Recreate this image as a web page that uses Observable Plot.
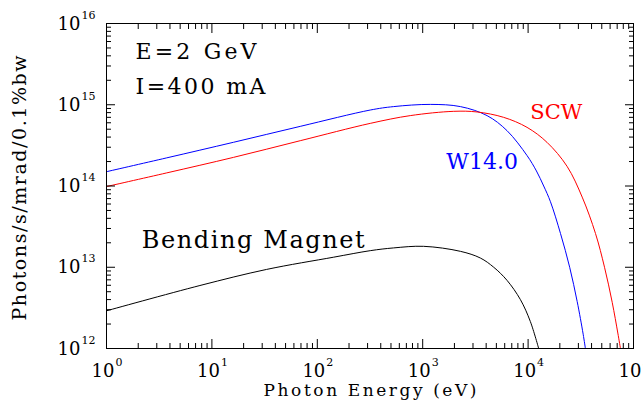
<!DOCTYPE html>
<html><head><meta charset="utf-8">
<script src="https://cdn.jsdelivr.net/npm/d3@7"></script>
<script src="https://cdn.jsdelivr.net/npm/@observablehq/plot@0.6"></script>
<style>
body{margin:0;background:#fff;}
#chart svg{display:block;}
#chart svg text{font-family:"DejaVu Serif",serif !important;}
</style></head><body><div id="chart"></div>
<script>
// Bending magnet (black)
const bmEnergy = [1, 7.7, 33, 143, 318, 530, 1020, 2280, 3520, 4720, 6310, 8450, 10500, 12600];
const bmFlux   = [2.91e12, 5.96e12, 9.4e12, 1.33e13, 1.60e13, 1.73e13, 1.81e13, 1.57e13, 1.30e13, 1.0e13, 6.9e12, 4.0e12, 2.15e12, 1.0e12];
// W14.0 wiggler (blue)
const w14Energy = [1, 3.73, 16, 68.9, 318, 530, 1180, 2280, 4080, 6310, 9770, 12000, 14060, 16300, 20300, 24800, 29200, 33300, 35000];
const w14Flux   = [1.50e14, 2.22e14, 3.45e14, 5.42e14, 8.61e14, 9.49e14, 1.01e15, 9.49e14, 7.35e14, 4.80e14, 2.37e14, 1.53e14, 1.0e14, 6.4e13, 2.6e13, 1.0e13, 3.8e12, 1.5e12, 9.9e11];
// SCW (red)
const scwEnergy = [1, 3.73, 16, 68.9, 318, 762, 1970, 3280, 5860, 9770, 15100, 23400, 32600, 43600, 53100, 62800, 71000, 75300];
const scwFlux   = [9.84e13, 1.45e14, 2.25e14, 3.61e14, 5.90e14, 7.35e14, 8.30e14, 8.15e14, 7.0e14, 5.27e14, 3.45e14, 1.75e14, 7.3e13, 2.6e13, 1.0e13, 3.7e12, 1.55e12, 9.9e11];

// Axis ticks and labels
const xMajor = [1, 10, 100, 1000, 10000, 100000];
const xExponents = ["0", "1", "2", "3", "4", "5"];
const yMajor = [1e12, 1e13, 1e14, 1e15, 1e16];
const yExponents = ["12", "13", "14", "15", "16"];
const minorMultipliers = [2, 3, 4, 5, 6, 7, 8, 9];
const xMinor = xMajor.slice(0, -1).flatMap(d => minorMultipliers.map(m => m * d));
const yMinor = yMajor.slice(0, -1).flatMap(d => minorMultipliers.map(m => m * d));

const toRows = (E, F) => E.map((e, i) => ({E: e, F: F[i]}));
const bm = toRows(bmEnergy, bmFlux);
const w14 = toRows(w14Energy, w14Flux);
const scw = toRows(scwEnergy, scwFlux);

const font = "DejaVu Serif";
const inwardAxes = [];
for (const anchor of ["bottom", "top"]) {
  inwardAxes.push(Plot.axisX({anchor, ticks: xMajor, tickSize: -9, tickFormat: () => "", label: null}));
  inwardAxes.push(Plot.axisX({anchor, ticks: xMinor, tickSize: -5, tickFormat: () => "", label: null}));
}
for (const anchor of ["left", "right"]) {
  inwardAxes.push(Plot.axisY({anchor, ticks: yMajor, tickSize: -9, tickFormat: () => "", label: null}));
  inwardAxes.push(Plot.axisY({anchor, ticks: yMinor, tickSize: -5, tickFormat: () => "", label: null}));
}
const T = (o) => ({fontFamily: font, ...o});

const plot = Plot.plot({
  width: 643, height: 400,
  marginLeft: 106, marginRight: 10, marginTop: 23, marginBottom: 52,
  style: {fontFamily: font, background: "white", color: "black"},
  x: {type: "log", domain: [1, 1e5]},
  y: {type: "log", domain: [1e12, 1e16]},
  marks: [
    Plot.line(bm, {x: "E", y: "F", stroke: "black", strokeWidth: 1, curve: "catmull-rom", clip: true}),
    Plot.line(w14, {x: "E", y: "F", stroke: "#0000ff", strokeWidth: 1, curve: "catmull-rom", clip: true}),
    Plot.line(scw, {x: "E", y: "F", stroke: "#ff0000", strokeWidth: 1, curve: "catmull-rom", clip: true}),
    ...inwardAxes,
    Plot.frame({stroke: "black", strokeWidth: 1}),
    // tick labels 10^n
    Plot.text(xMajor, T({x: d => d, frameAnchor: "bottom", text: () => "10", textAnchor: "end", lineAnchor: "bottom", dx: 8, dy: 28, fontSize: 18})),
    Plot.text(xMajor, T({x: d => d, frameAnchor: "bottom", text: (d, i) => xExponents[i], textAnchor: "start", lineAnchor: "bottom", dx: 9, dy: 17, fontSize: 11})),
    Plot.text(yMajor, T({y: d => d, frameAnchor: "left", text: () => "10", textAnchor: "end", lineAnchor: "bottom", dx: -26, dy: 6, fontSize: 18})),
    Plot.text(yMajor, T({y: d => d, frameAnchor: "left", text: (d, i) => yExponents[i], textAnchor: "start", lineAnchor: "bottom", dx: -25, dy: -5, fontSize: 11})),
    // axis titles
    Plot.text(["Photon Energy (eV)"], T({frameAnchor: "bottom", text: d => d, dy: 47, lineAnchor: "bottom", textAnchor: "middle", fontSize: 17})),
    Plot.text(["Photons/s/mrad/0.1%bw"], T({frameAnchor: "left", text: d => d, rotate: -90, dx: -81, dy: 2, lineAnchor: "bottom", textAnchor: "middle", fontSize: 19})),
    // annotations
    Plot.text(["E=2 GeV"], T({frameAnchor: "top-left", text: d => d, dx: 29, dy: 35, lineAnchor: "bottom", textAnchor: "start", fontSize: 22})),
    Plot.text(["I=400 mA"], T({frameAnchor: "top-left", text: d => d, dx: 29, dy: 70, lineAnchor: "bottom", textAnchor: "start", fontSize: 22})),
    Plot.text(["Bending Magnet"], T({x: 2.16, y: 1.75e13, text: d => d, lineAnchor: "bottom", textAnchor: "start", fontSize: 24})),
    Plot.text(["W14.0"], T({x: 1675, y: 1.62e14, text: d => d, fill: "#0000ff", lineAnchor: "bottom", textAnchor: "start", fontSize: 22})),
    Plot.text(["SCW"], T({x: 10500, y: 6.7e14, text: d => d, fill: "#ff0000", lineAnchor: "bottom", textAnchor: "start", fontSize: 21}))
  ]
});

const textLengths = {
  "E=2 GeV": 121, "I=400 mA": 130, "Bending Magnet": 223,
  "Photon Energy (eV)": 213, "Photons/s/mrad/0.1%bw": 265
};
plot.querySelectorAll("text").forEach(t => {
  t.setAttribute("font-family", font);
  const s = t.textContent;
  if (textLengths[s]) {
    t.setAttribute("textLength", textLengths[s]);
    t.setAttribute("lengthAdjust", "spacing");
  }
});
document.getElementById("chart").appendChild(plot);
</script></body></html>
